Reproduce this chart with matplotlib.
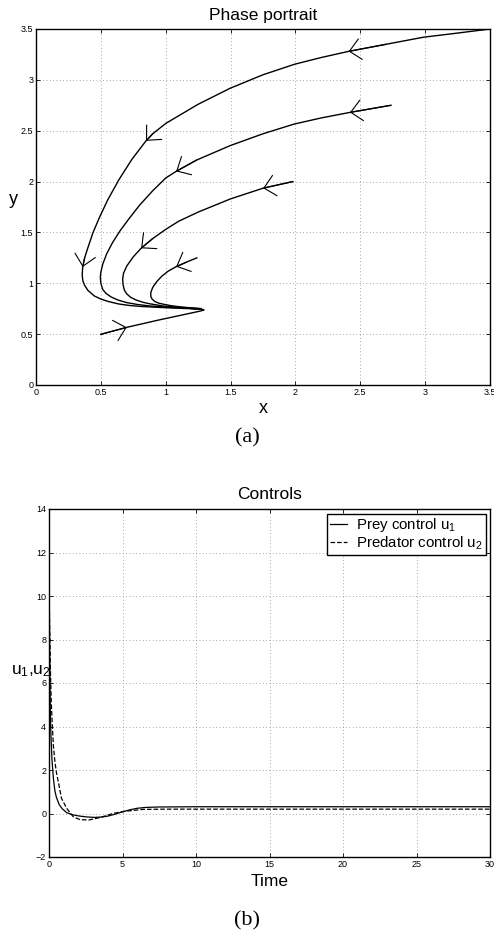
import matplotlib
matplotlib.use("Agg")
import matplotlib.pyplot as plt
import numpy as np

plt.rcParams['font.family'] = ['Liberation Sans', 'DejaVu Sans']
plt.rcParams['axes.unicode_minus'] = True

# ---------------- Phase portrait data ----------------
c1_x = [3.5, 3.25, 2.986, 2.7, 2.41, 2.2, 1.992, 1.75, 1.496, 1.25, 1.002, 0.9, 0.848, 0.74, 0.64,
        0.553, 0.49, 0.44, 0.40, 0.375, 0.36, 0.356, 0.362, 0.375, 0.40, 0.45, 0.5, 0.56, 0.64,
        0.72, 0.8, 0.9, 1.0, 1.15, 1.27]
c1_y = [3.5, 3.46, 3.419, 3.35, 3.28, 3.22, 3.153, 3.05, 2.917, 2.76, 2.573, 2.47, 2.40, 2.22, 2.02,
        1.82, 1.65, 1.50, 1.35, 1.25, 1.16, 1.08, 1.02, 0.98, 0.93, 0.875, 0.845, 0.82, 0.796,
        0.782, 0.773, 0.766, 0.76, 0.752, 0.747]
c1_arrows = [4, 12, 20]

c2_x = [2.736, 2.42, 2.2, 1.992, 1.75, 1.496, 1.239, 1.08, 1.0, 0.9, 0.8, 0.72, 0.65, 0.59, 0.545,
        0.515, 0.5, 0.496, 0.5, 0.514, 0.54, 0.58, 0.63, 0.7, 0.78, 0.87, 1.0, 1.15, 1.27]
c2_y = [2.75, 2.68, 2.626, 2.566, 2.47, 2.353, 2.212, 2.10, 2.035, 1.91, 1.77, 1.64, 1.52, 1.40, 1.29,
        1.19, 1.11, 1.06, 1.0, 0.94, 0.9, 0.865, 0.836, 0.81, 0.792, 0.778, 0.766, 0.756, 0.749]
c2_arrows = [1, 7]

c3_x = [1.98, 1.751, 1.5, 1.25, 1.1, 1.0, 0.9, 0.81, 0.75, 0.7, 0.675, 0.668, 0.672, 0.681, 0.70,
        0.73, 0.771, 0.82, 0.87, 0.977, 1.1, 1.27]
c3_y = [2.0, 1.935, 1.83, 1.70, 1.61, 1.53, 1.44, 1.344, 1.26, 1.17, 1.1, 1.04, 0.98, 0.934, 0.895,
        0.862, 0.836, 0.815, 0.80, 0.777, 0.762, 0.749]
c3_arrows = [1, 7]

c4_x = [1.24, 1.16, 1.08, 1.02, 0.97, 0.93, 0.9, 0.885, 0.885, 0.895, 0.915, 0.945, 0.98, 1.04,
        1.1, 1.18, 1.27]
c4_y = [1.25, 1.208, 1.163, 1.12, 1.07, 1.015, 0.96, 0.91, 0.87, 0.845, 0.822, 0.805, 0.795,
        0.78, 0.77, 0.76, 0.752]
c4_arrows = [2]

c5_x = [0.499, 0.70, 0.95, 1.187, 1.26, 1.295, 1.285, 1.25, 1.2]
c5_y = [0.498, 0.567, 0.64, 0.705, 0.725, 0.737, 0.743, 0.747, 0.75]
c5_arrows = [1]

phase_ticks = [0, 0.5, 1, 1.5, 2, 2.5, 3, 3.5]
phase_ticklabels = ['0', '0.5', '1', '1.5', '2', '2.5', '3', '3.5']

# ---------------- Controls data ----------------
t_u1 = [0, 0.03, 0.06, 0.1, 0.15, 0.2, 0.3, 0.4, 0.5, 0.7, 0.9, 1.2, 1.6, 2.1, 2.6, 3.1, 3.6, 4.0,
        4.5, 5.0, 5.5, 6.0, 6.6, 7.5, 10, 30]
u1 = [11.2, 8.5, 6.2, 4.3, 3.3, 2.5, 1.6, 1.05, 0.75, 0.4, 0.22, 0.04, -0.06, -0.12, -0.16, -0.18,
      -0.16, -0.12, -0.03, 0.08, 0.17, 0.24, 0.28, 0.30, 0.31, 0.31]

t_u2 = [0, 0.05, 0.1, 0.15, 0.2, 0.3, 0.4, 0.5, 0.65, 0.85, 1.2, 1.65, 2.1, 2.7, 3.5, 4.4, 5.3,
        6.4, 8, 30]
u2 = [10.5, 8.5, 6.5, 5.2, 4.4, 3.1, 2.4, 1.9, 1.4, 0.7, 0.24, -0.15, -0.28, -0.30, -0.18, 0.01,
      0.11, 0.19, 0.2, 0.2]

ctrl_xticks = [0, 5, 10, 15, 20, 25, 30]
ctrl_yticks = [-2, 0, 2, 4, 6, 8, 10, 12, 14]

# ---------------- Figure ----------------
fig = plt.figure(figsize=(4.94, 9.32), dpi=100)

def style_axes(ax):
    ax.tick_params(direction='in', length=3, width=0.6, labelsize=6.5, top=True, right=True, pad=2)
    ax.grid(True, linestyle=(0, (1, 3)), color='0.55', linewidth=0.6)
    for s in ax.spines.values():
        s.set_linewidth(1.0)

ax1 = fig.add_axes([36 / 494, 1 - 385 / 932, 454 / 494, 356 / 932])
curves = [(c1_x, c1_y, c1_arrows), (c2_x, c2_y, c2_arrows), (c3_x, c3_y, c3_arrows),
          (c4_x, c4_y, c4_arrows), (c5_x, c5_y, c5_arrows)]
for cx, cy, arr in curves:
    ax1.plot(cx, cy, color='black', linewidth=1.0, solid_joinstyle='round')
    for i in arr:
        ax1.annotate('', xy=(cx[i], cy[i]), xytext=(cx[i - 1], cy[i - 1]),
                     arrowprops=dict(arrowstyle='->,head_length=0.8,head_width=0.75',
                                     color='black', lw=0.8, shrinkA=0, shrinkB=0,
                                     mutation_scale=10))
ax1.set_xlim(0, 3.5)
ax1.set_ylim(0, 3.5)
ax1.set_xticks(phase_ticks)
ax1.set_xticklabels(phase_ticklabels)
ax1.set_yticks(phase_ticks)
ax1.set_yticklabels(phase_ticklabels)
style_axes(ax1)
ax1.set_title('Phase portrait', fontsize=12.5, pad=6.5)
ax1.set_xlabel('x', fontsize=13, labelpad=2)
ax1.set_ylabel('y', fontsize=13, rotation=0, ha='center', va='center')
ax1.yaxis.set_label_coords(-0.0507, 0.522)

fig.text(0.5, 1 - 438 / 932, '(a)', ha='center', va='center',
         fontsize=16, family=['Liberation Serif', 'DejaVu Serif'])

ax2 = fig.add_axes([49 / 494, 1 - 857 / 932, 441 / 494, 348 / 932])
ax2.plot(t_u1, u1, color='black', linewidth=0.9, linestyle='-', label=r'Prey control u$\mathregular{_1}$')
ax2.plot(t_u2, u2, color='black', linewidth=0.9, linestyle='--', label=r'Predator control u$\mathregular{_2}$')
ax2.set_xlim(0, 30)
ax2.set_ylim(-2, 14)
ax2.set_xticks(ctrl_xticks)
ax2.set_yticks(ctrl_yticks)
style_axes(ax2)
ax2.set_title('Controls', fontsize=12.5, pad=7.5)
ax2.set_xlabel('Time', fontsize=12.5, labelpad=4)
ax2.set_ylabel(r'u$\mathregular{_1}$,u$\mathregular{_2}$', fontsize=12.5, rotation=0,
               ha='center', va='center')
ax2.yaxis.set_label_coords(-0.041, 0.535)
leg = ax2.legend(loc='upper right', fontsize=10.8, frameon=True, fancybox=False,
                 edgecolor='black', framealpha=1, handlelength=1.1, handletextpad=0.6,
                 borderpad=0.2, labelspacing=0.0, borderaxespad=0.3)
leg.get_frame().set_linewidth(1.0)

fig.text(0.5, 1 - 921 / 932, '(b)', ha='center', va='center',
         fontsize=16, family=['Liberation Serif', 'DejaVu Serif'])

fig.savefig('out.png', dpi=100)
